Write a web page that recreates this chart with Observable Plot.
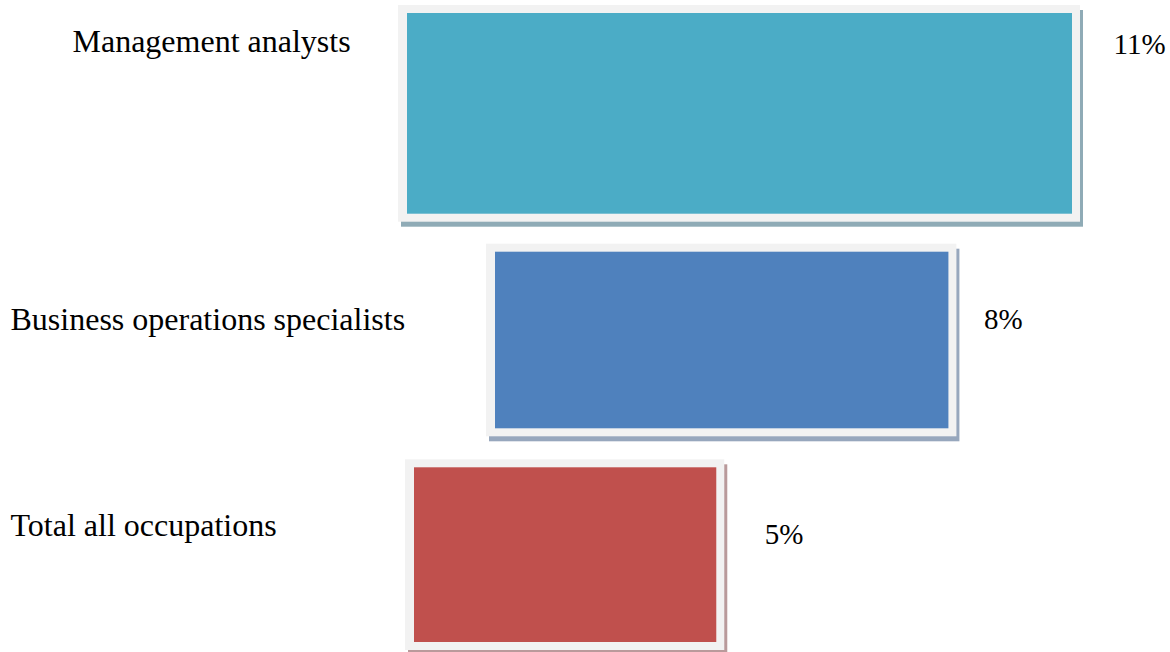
<!DOCTYPE html>
<html>
<head>
<meta charset="utf-8">
<script src="https://cdn.jsdelivr.net/npm/d3@7"></script>
<script src="https://cdn.jsdelivr.net/npm/@observablehq/plot@0.6"></script>
<style>
  html, body { margin: 0; padding: 0; background: #ffffff; }
  #chart { width: 1170px; height: 652px; }
</style>
</head>
<body>
<div id="chart"></div>
<script>
// ---- Data ----
const categories = ["Management analysts", "Business operations specialists", "Total all occupations"];
const growth = [11, 7.5, 5];            // bar lengths, in percent
const growthLabels = ["11%", "8%", "5%"]; // value labels as printed

// ---- Styles ----
const fills = ["#4bacc6", "#4f81bd", "#c0504d"];
const shadows = ["#8fabb6", "#97a7bd", "#b99a9b"];
const frameColor = "#f2f2f2";

// ---- Layout (per-bar placement, pixels) ----
const layout = [
  {shift: 0,  top: 12,   bottom: 4.3, labelDx: 72, labelDy: -58, valueGap: 41, valueDy: -56},
  {shift: 88, top: 33.7, bottom: 6.7, labelDx: 10, labelDy: 3,   valueGap: 35, valueDy: 2},
  {shift: 7,  top: 32.3, bottom: 10,  labelDx: 10, labelDy: -8,  valueGap: 48, valueDy: 0}
];

const rows = categories.map((c, i) => ({category: c, value: growth[i], label: growthLabels[i]}));

const marks = [];
rows.forEach((row, i) => {
  const L = layout[i];
  const data = [row];
  const frame = {
    x1: () => 0, x2: "value", y: "category",
    insetTop: L.top - 8, insetBottom: L.bottom - 8, insetLeft: -9, insetRight: -8
  };
  // shadow
  marks.push(Plot.barX(data, {...frame, fill: shadows[i], dx: L.shift + 3, dy: 5}));
  // light frame
  marks.push(Plot.barX(data, {...frame, fill: frameColor, dx: L.shift}));
  // coloured fill
  marks.push(Plot.barX(data, {
    x1: () => 0, x2: "value", y: "category", fill: fills[i],
    insetTop: L.top, insetBottom: L.bottom, dx: L.shift
  }));
  // category label
  marks.push(Plot.text(data, {
    y: "category", text: "category", frameAnchor: "left", textAnchor: "start",
    lineAnchor: "bottom", dx: L.labelDx, dy: L.labelDy,
    fontSize: 32, fill: "#000000"
  }));
  // value label
  marks.push(Plot.text(data, {
    x: "value", y: "category", text: "label", textAnchor: "start",
    lineAnchor: "bottom", dx: L.shift + L.valueGap, dy: L.valueDy,
    fontSize: 29, fill: "#000000"
  }));
});

const chart = Plot.plot({
  width: 1170,
  height: 652,
  marginTop: 0, marginBottom: 0, marginLeft: 0, marginRight: 0,
  style: {fontFamily: "'Liberation Serif', 'Times New Roman', serif", background: "#ffffff"},
  x: {domain: [0, 11], range: [407, 1072], axis: null},
  y: {domain: categories, range: [0, 652], padding: 0, axis: null},
  marks
});
document.getElementById("chart").appendChild(chart);
</script>
</body>
</html>
